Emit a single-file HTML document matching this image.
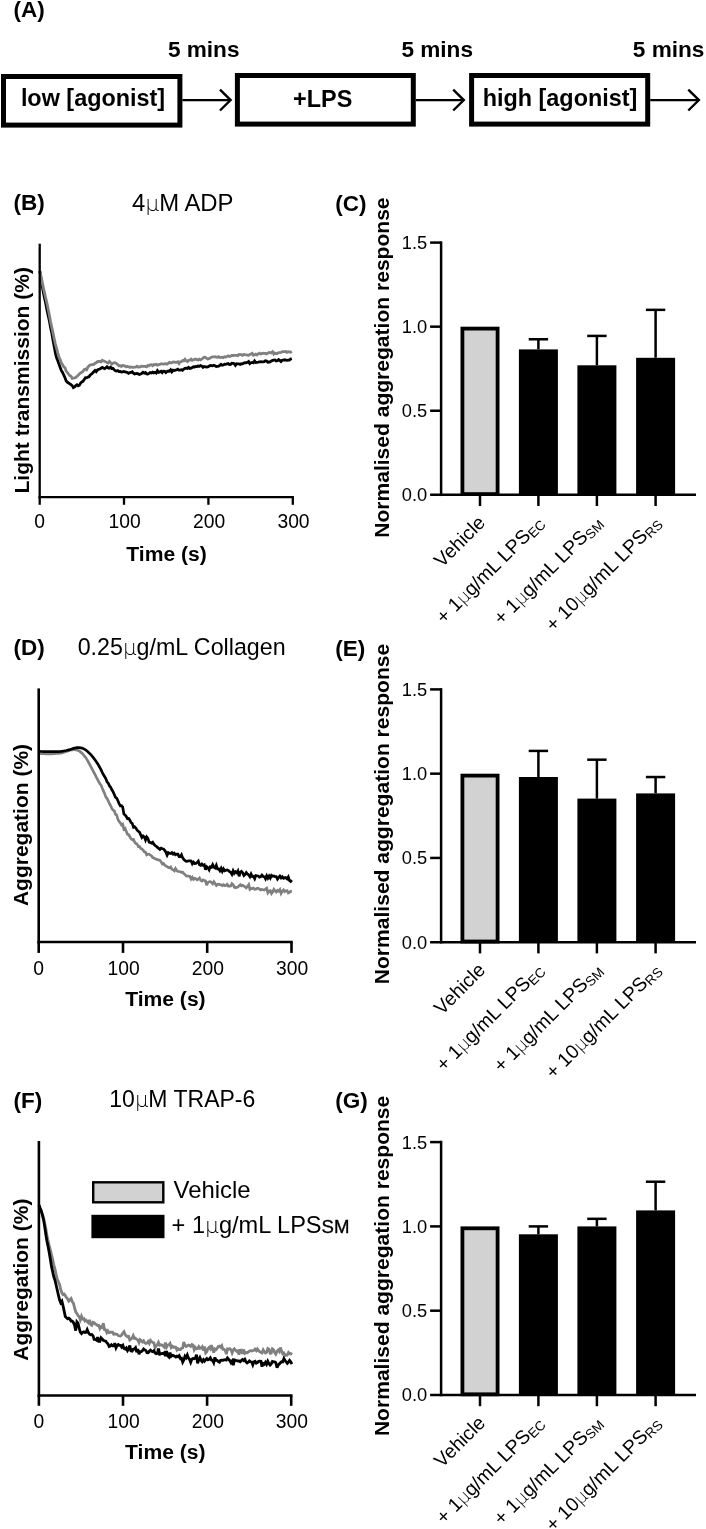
<!DOCTYPE html>
<html lang="en">
<head>
<meta charset="utf-8">
<title>Figure</title>
<style>
html,body{margin:0;padding:0;background:#fff;}
body{width:706px;height:1529px;overflow:hidden;}
svg{display:block;will-change:transform;}
text{font-family:"Liberation Sans", sans-serif;fill:#000;}
.mu{font-family:"DejaVu Sans", sans-serif;font-weight:200;font-size:0.92em;}
</style>
</head>
<body>
<svg width="706" height="1529" viewBox="0 0 706 1529">
<rect x="0" y="0" width="706" height="1529" fill="#fff"/>
<text x="13.5" y="16.7" font-size="22.5" font-weight="700" text-anchor="start">(A)</text>
<text x="167.9" y="57.4" font-size="22.6" font-weight="700" text-anchor="start">5 mins</text>
<text x="401.4" y="57.4" font-size="22.6" font-weight="700" text-anchor="start">5 mins</text>
<text x="632.8" y="57.4" font-size="22.6" font-weight="700" text-anchor="start">5 mins</text>
<rect x="3.5" y="76.5" width="176.4" height="48.599999999999994" fill="#fff" stroke="#000" stroke-width="5.0"/>
<text x="93" y="106.2" font-size="23.4" font-weight="700" text-anchor="middle">low [agonist]</text>
<rect x="237.4" y="75.5" width="175.9" height="48.599999999999994" fill="#fff" stroke="#000" stroke-width="5.0"/>
<text x="322.7" y="107.2" font-size="23.4" font-weight="700" text-anchor="middle">+LPS</text>
<rect x="471.6" y="75.5" width="176.10000000000002" height="48.599999999999994" fill="#fff" stroke="#000" stroke-width="5.0"/>
<text x="560" y="106.2" font-size="23.4" font-weight="700" text-anchor="middle">high [agonist]</text>
<line x1="182.4" y1="100.1" x2="229.6" y2="100.1" stroke="#000" stroke-width="2.4" stroke-linecap="butt"/>
<polyline points="220.0,89.69999999999999 230.6,100.1 220.0,110.5" fill="none" stroke="#000" stroke-width="2.4" stroke-linejoin="miter" stroke-linecap="butt"/>
<line x1="415.8" y1="100.1" x2="462.8" y2="100.1" stroke="#000" stroke-width="2.4" stroke-linecap="butt"/>
<polyline points="453.2,89.69999999999999 463.8,100.1 453.2,110.5" fill="none" stroke="#000" stroke-width="2.4" stroke-linejoin="miter" stroke-linecap="butt"/>
<line x1="650.2" y1="100.1" x2="697.9" y2="100.1" stroke="#000" stroke-width="2.4" stroke-linecap="butt"/>
<polyline points="688.3,89.69999999999999 698.9,100.1 688.3,110.5" fill="none" stroke="#000" stroke-width="2.4" stroke-linejoin="miter" stroke-linecap="butt"/>
<polyline points="39.8,271.0 41.0,278.6 42.2,285.9 43.4,292.4 44.6,298.5 45.8,303.7 47.0,310.2 48.2,315.7 49.4,321.0 50.6,327.7 51.8,333.0 53.0,340.3 54.2,346.4 55.4,352.9 56.6,357.9 57.8,360.7 59.0,364.3 60.2,367.6 61.4,370.7 62.6,372.5 63.8,375.2 65.0,377.7 66.2,381.0 67.4,382.3 68.6,382.9 69.8,383.8 71.0,384.7 72.2,385.6 73.4,387.7 74.6,387.0 75.8,385.6 77.0,384.8 78.2,385.9 79.4,385.3 80.6,383.1 81.8,381.9 83.0,381.3 84.2,379.5 85.4,377.7 86.6,377.9 87.8,377.1 89.0,376.8 90.2,374.9 91.4,374.1 92.6,373.0 93.8,371.7 95.0,370.5 96.2,371.7 97.4,370.1 98.6,369.3 99.8,369.0 101.0,368.3 102.2,367.4 103.4,368.0 104.6,368.7 105.8,367.9 107.0,366.7 108.2,368.0 109.4,368.2 110.6,367.2 111.8,368.5 113.0,368.5 114.2,369.7 115.4,370.8 116.6,371.0 117.8,370.6 119.0,371.5 120.2,371.4 121.4,372.1 122.6,371.8 123.8,371.5 125.0,371.8 126.2,372.2 127.4,372.5 128.6,373.3 129.8,372.6 131.0,372.4 132.2,371.8 133.4,373.1 134.6,374.0 135.8,373.7 137.0,373.5 138.2,373.9 139.4,374.5 140.6,374.1 141.8,373.3 143.0,372.3 144.2,373.1 145.4,372.5 146.6,373.9 147.8,374.0 149.0,373.4 150.2,372.6 151.4,372.9 152.6,372.1 153.8,372.9 155.0,372.4 156.2,373.1 157.4,370.7 158.6,372.4 159.8,371.9 161.0,371.2 162.2,372.6 163.4,371.2 164.6,371.3 165.8,372.5 167.0,371.4 168.2,371.0 169.4,371.2 170.6,369.9 171.8,371.8 173.0,370.1 174.2,370.6 175.4,370.1 176.6,370.0 177.8,369.2 179.0,370.1 180.2,370.1 181.4,369.7 182.6,370.3 183.8,369.1 185.0,368.3 186.2,368.2 187.4,368.4 188.6,367.4 189.8,368.5 191.0,368.2 192.2,367.6 193.4,366.8 194.6,367.1 195.8,366.5 197.0,366.6 198.2,366.0 199.4,366.2 200.6,365.5 201.8,366.1 203.0,367.4 204.2,366.5 205.4,366.8 206.6,367.0 207.8,366.9 209.0,366.2 210.2,365.5 211.4,365.6 212.6,365.8 213.8,365.3 215.0,365.8 216.2,366.5 217.4,366.3 218.6,366.1 219.8,365.3 221.0,364.3 222.2,365.3 223.4,365.0 224.6,364.2 225.8,364.4 227.0,363.8 228.2,363.5 229.4,364.6 230.6,364.4 231.8,363.2 233.0,363.4 234.2,363.7 235.4,365.4 236.6,363.7 237.8,363.9 239.0,363.9 240.2,364.4 241.4,363.7 242.6,363.8 243.8,363.0 245.0,362.7 246.2,362.9 247.4,362.3 248.6,361.5 249.8,363.6 251.0,362.7 252.2,362.5 253.4,362.8 254.6,360.9 255.8,362.5 257.0,362.3 258.2,362.2 259.4,362.0 260.6,361.6 261.8,361.8 263.0,361.9 264.2,361.7 265.4,360.7 266.6,361.0 267.8,362.2 269.0,362.0 270.2,361.9 271.4,361.0 272.6,360.4 273.8,360.2 275.0,360.0 276.2,360.9 277.4,360.7 278.6,359.6 279.8,360.4 281.0,361.6 282.2,360.3 283.4,360.0 284.6,359.8 285.8,360.1 287.0,360.4 288.2,360.2 289.4,360.1 290.6,359.0 291.8,358.6" fill="none" stroke="#000" stroke-width="2.8" stroke-linejoin="miter" stroke-miterlimit="3" stroke-linecap="butt"/>
<polyline points="39.8,271.0 41.0,276.5 42.2,282.1 43.4,287.8 44.6,293.1 45.8,298.3 47.0,303.3 48.2,309.2 49.4,315.2 50.6,321.7 51.8,327.4 53.0,332.9 54.2,338.7 55.4,344.1 56.6,348.4 57.8,353.2 59.0,357.1 60.2,359.5 61.4,363.0 62.6,364.8 63.8,366.9 65.0,367.8 66.2,371.0 67.4,372.5 68.6,374.2 69.8,375.6 71.0,376.2 72.2,378.4 73.4,378.1 74.6,377.9 75.8,377.5 77.0,376.3 78.2,375.3 79.4,374.1 80.6,372.9 81.8,372.4 83.0,371.2 84.2,369.7 85.4,369.0 86.6,369.7 87.8,367.3 89.0,365.8 90.2,365.1 91.4,364.7 92.6,364.6 93.8,364.5 95.0,363.2 96.2,362.7 97.4,361.6 98.6,361.5 99.8,361.4 101.0,361.9 102.2,360.3 103.4,360.9 104.6,361.2 105.8,361.9 107.0,362.6 108.2,363.1 109.4,361.5 110.6,362.8 111.8,364.1 113.0,363.1 114.2,362.6 115.4,362.9 116.6,363.6 117.8,364.7 119.0,365.7 120.2,365.6 121.4,366.4 122.6,365.4 123.8,365.6 125.0,366.1 126.2,366.9 127.4,366.3 128.6,366.9 129.8,367.2 131.0,367.0 132.2,367.4 133.4,367.3 134.6,367.2 135.8,367.1 137.0,366.2 138.2,367.1 139.4,367.0 140.6,366.6 141.8,366.2 143.0,366.4 144.2,366.4 145.4,366.4 146.6,366.8 147.8,365.5 149.0,365.7 150.2,364.9 151.4,364.7 152.6,365.7 153.8,364.6 155.0,364.9 156.2,364.4 157.4,365.2 158.6,364.7 159.8,364.4 161.0,363.8 162.2,363.8 163.4,364.1 164.6,363.8 165.8,363.7 167.0,364.1 168.2,363.3 169.4,362.3 170.6,362.8 171.8,362.8 173.0,362.1 174.2,361.9 175.4,362.3 176.6,362.3 177.8,361.8 179.0,363.5 180.2,361.8 181.4,361.7 182.6,360.5 183.8,360.9 185.0,359.3 186.2,360.8 187.4,361.6 188.6,360.3 189.8,360.1 191.0,359.2 192.2,360.4 193.4,359.8 194.6,359.4 195.8,359.0 197.0,359.6 198.2,360.0 199.4,359.2 200.6,359.8 201.8,359.1 203.0,358.2 204.2,357.2 205.4,357.4 206.6,358.4 207.8,359.0 209.0,358.6 210.2,358.0 211.4,357.2 212.6,356.9 213.8,356.9 215.0,356.7 216.2,357.2 217.4,357.3 218.6,356.6 219.8,357.6 221.0,357.4 222.2,357.1 223.4,357.6 224.6,356.7 225.8,357.0 227.0,356.5 228.2,355.8 229.4,356.5 230.6,356.1 231.8,355.4 233.0,355.5 234.2,355.3 235.4,355.3 236.6,355.3 237.8,355.7 239.0,354.5 240.2,354.7 241.4,354.7 242.6,355.3 243.8,354.5 245.0,354.7 246.2,354.8 247.4,355.1 248.6,355.2 249.8,354.6 251.0,354.0 252.2,353.4 253.4,355.3 254.6,354.8 255.8,354.1 257.0,354.9 258.2,353.8 259.4,353.2 260.6,354.0 261.8,353.6 263.0,353.1 264.2,353.4 265.4,353.4 266.6,353.9 267.8,353.1 269.0,352.5 270.2,352.7 271.4,352.9 272.6,351.8 273.8,354.0 275.0,353.0 276.2,353.8 277.4,353.4 278.6,352.6 279.8,352.6 281.0,352.4 282.2,351.7 283.4,351.7 284.6,351.7 285.8,351.4 287.0,352.3 288.2,351.7 289.4,351.8 290.6,352.2 291.8,351.4" fill="none" stroke="#808080" stroke-width="2.8" stroke-linejoin="miter" stroke-miterlimit="3" stroke-linecap="butt"/>
<text x="13.5" y="210" font-size="22.5" font-weight="700" text-anchor="start">(B)</text>
<text x="131.9" y="211.0" font-size="23.9" text-anchor="start">4<tspan class="mu">μ</tspan>M ADP</text>
<line x1="39.7" y1="243.7" x2="39.7" y2="498.34999999999997" stroke="#000" stroke-width="2.3" stroke-linecap="butt"/>
<line x1="38.550000000000004" y1="497.2" x2="293.95" y2="497.2" stroke="#000" stroke-width="2.3" stroke-linecap="butt"/>
<line x1="39.7" y1="497.2" x2="39.7" y2="504.8" stroke="#000" stroke-width="2.3" stroke-linecap="butt"/>
<text x="39.7" y="527.8" font-size="19.3" text-anchor="middle">0</text>
<line x1="124.0" y1="497.2" x2="124.0" y2="504.8" stroke="#000" stroke-width="2.3" stroke-linecap="butt"/>
<text x="124.7" y="527.8" font-size="19.3" text-anchor="middle">100</text>
<line x1="208.4" y1="497.2" x2="208.4" y2="504.8" stroke="#000" stroke-width="2.3" stroke-linecap="butt"/>
<text x="209.1" y="527.8" font-size="19.3" text-anchor="middle">200</text>
<line x1="292.8" y1="497.2" x2="292.8" y2="504.8" stroke="#000" stroke-width="2.3" stroke-linecap="butt"/>
<text x="293.5" y="527.8" font-size="19.3" text-anchor="middle">300</text>
<text x="166.55" y="560.5" font-size="21.1" font-weight="700" text-anchor="middle">Time (s)</text>
<text x="29.3" y="380.3" font-size="21" font-weight="700" text-anchor="middle" transform="rotate(-90 29.3 380.3)">Light transmission (%)</text>
<polyline points="38.7,753.5 39.9,753.5 41.1,753.6 42.3,753.6 43.5,753.7 44.7,753.7 45.9,753.8 47.1,753.8 48.3,753.8 49.5,753.8 50.7,753.8 51.9,753.8 53.1,753.7 54.3,753.7 55.5,753.6 56.7,753.5 57.9,753.4 59.1,753.3 60.3,753.2 61.5,752.9 62.7,752.6 63.9,752.2 65.1,751.9 66.3,751.5 67.5,751.1 68.7,750.7 69.9,750.3 71.1,750.0 72.3,749.8 73.5,749.6 74.7,749.6 75.9,749.8 77.1,750.1 78.3,750.5 79.5,751.1 80.7,752.1 81.9,753.1 83.1,754.4 84.3,755.8 85.5,757.3 86.7,759.1 87.9,761.1 89.1,763.4 90.3,765.7 91.5,767.9 92.7,770.2 93.9,772.5 95.1,774.6 96.3,777.1 97.5,779.4 98.7,781.6 99.9,783.7 101.1,785.3 102.3,788.3 103.5,791.1 104.7,793.8 105.9,797.1 107.1,798.6 108.3,801.0 109.5,803.7 110.7,805.8 111.9,808.6 113.1,810.2 114.3,810.7 115.5,814.4 116.7,815.2 117.9,819.3 119.1,821.5 120.3,822.9 121.5,825.0 122.7,824.2 123.9,829.2 125.1,828.4 126.3,831.6 127.5,834.3 128.7,834.7 129.9,836.8 131.1,838.9 132.3,839.7 133.5,839.4 134.7,842.3 135.9,843.5 137.1,844.0 138.3,846.5 139.5,846.4 140.7,848.5 141.9,849.0 143.1,850.2 144.3,851.9 145.5,852.2 146.7,854.8 147.9,854.1 149.1,854.2 150.3,855.1 151.5,855.7 152.7,857.6 153.9,858.1 155.1,858.7 156.3,859.1 157.5,859.8 158.7,859.8 159.9,860.3 161.1,861.9 162.3,864.0 163.5,863.4 164.7,865.2 165.9,865.8 167.1,866.7 168.3,867.4 169.5,867.8 170.7,867.0 171.9,869.2 173.1,869.8 174.3,870.8 175.5,868.5 176.7,870.5 177.9,871.5 179.1,871.5 180.3,871.7 181.5,872.3 182.7,872.2 183.9,873.7 185.1,874.8 186.3,876.0 187.5,876.1 188.7,876.2 189.9,876.5 191.1,879.0 192.3,877.3 193.5,879.4 194.7,878.2 195.9,878.6 197.1,879.8 198.3,879.2 199.5,878.0 200.7,880.3 201.9,881.1 203.1,879.9 204.3,880.6 205.5,880.9 206.7,885.2 207.9,882.4 209.1,881.7 210.3,881.6 211.5,882.4 212.7,883.8 213.9,881.8 215.1,883.6 216.3,885.5 217.5,884.4 218.7,884.2 219.9,884.6 221.1,884.8 222.3,885.6 223.5,884.6 224.7,885.5 225.9,885.4 227.1,884.3 228.3,886.1 229.5,886.2 230.7,886.0 231.9,883.7 233.1,884.7 234.3,887.2 235.5,887.8 236.7,887.3 237.9,887.1 239.1,885.7 240.3,884.7 241.5,885.9 242.7,885.3 243.9,886.2 245.1,886.9 246.3,887.8 247.5,886.3 248.7,884.6 249.9,889.4 251.1,888.4 252.3,888.6 253.5,888.1 254.7,889.4 255.9,889.2 257.1,888.4 258.3,888.3 259.5,889.1 260.7,889.9 261.9,889.5 263.1,889.7 264.3,890.0 265.5,889.2 266.7,888.3 267.9,892.7 269.1,891.1 270.3,890.7 271.5,893.5 272.7,891.7 273.9,889.4 275.1,891.1 276.3,892.0 277.5,890.3 278.7,891.1 279.9,889.6 281.1,893.4 282.3,891.4 283.5,889.9 284.7,891.6 285.9,890.7 287.1,890.6 288.3,892.9 289.5,892.3 290.7,891.3 291.9,891.1" fill="none" stroke="#808080" stroke-width="2.7" stroke-linejoin="miter" stroke-miterlimit="3" stroke-linecap="butt"/>
<polyline points="38.7,751.4 39.9,751.4 41.1,751.5 42.3,751.5 43.5,751.6 44.7,751.6 45.9,751.6 47.1,751.7 48.3,751.7 49.5,751.7 50.7,751.7 51.9,751.7 53.1,751.7 54.3,751.7 55.5,751.7 56.7,751.7 57.9,751.6 59.1,751.6 60.3,751.5 61.5,751.3 62.7,751.2 63.9,751.0 65.1,750.7 66.3,750.5 67.5,750.2 68.7,749.9 69.9,749.6 71.1,749.2 72.3,748.8 73.5,748.4 74.7,748.1 75.9,747.9 77.1,747.7 78.3,747.6 79.5,747.6 80.7,747.8 81.9,748.1 83.1,748.5 84.3,749.1 85.5,749.8 86.7,750.8 87.9,751.8 89.1,752.9 90.3,754.1 91.5,755.4 92.7,756.8 93.9,758.4 95.1,760.0 96.3,761.8 97.5,763.6 98.7,765.5 99.9,767.6 101.1,769.9 102.3,772.7 103.5,774.7 104.7,776.7 105.9,778.8 107.1,781.9 108.3,783.2 109.5,785.9 110.7,787.3 111.9,789.8 113.1,791.8 114.3,794.5 115.5,797.3 116.7,798.1 117.9,800.7 119.1,803.6 120.3,805.8 121.5,805.7 122.7,807.1 123.9,814.0 125.1,815.0 126.3,816.6 127.5,818.7 128.7,818.5 129.9,820.3 131.1,822.7 132.3,823.5 133.5,827.3 134.7,826.9 135.9,828.0 137.1,830.1 138.3,831.3 139.5,832.2 140.7,834.9 141.9,837.5 143.1,835.9 144.3,837.0 145.5,840.0 146.7,836.9 147.9,838.3 149.1,842.1 150.3,842.5 151.5,843.2 152.7,842.3 153.9,844.3 155.1,845.5 156.3,846.3 157.5,847.4 158.7,848.4 159.9,849.4 161.1,848.2 162.3,848.8 163.5,849.0 164.7,850.3 165.9,852.2 167.1,855.2 168.3,852.6 169.5,853.2 170.7,853.6 171.9,852.6 173.1,854.1 174.3,853.1 175.5,854.8 176.7,854.1 177.9,854.1 179.1,856.6 180.3,856.7 181.5,854.8 182.7,857.9 183.9,859.6 185.1,860.6 186.3,861.3 187.5,861.2 188.7,860.9 189.9,860.8 191.1,861.0 192.3,863.8 193.5,862.1 194.7,863.5 195.9,863.4 197.1,862.5 198.3,861.2 199.5,864.8 200.7,865.4 201.9,864.0 203.1,865.4 204.3,864.8 205.5,869.8 206.7,866.7 207.9,867.7 209.1,869.8 210.3,866.7 211.5,867.2 212.7,864.7 213.9,867.3 215.1,868.0 216.3,865.3 217.5,868.9 218.7,868.9 219.9,870.7 221.1,868.3 222.3,871.4 223.5,868.8 224.7,870.7 225.9,870.2 227.1,869.9 228.3,870.3 229.5,871.7 230.7,872.3 231.9,874.3 233.1,870.8 234.3,873.4 235.5,871.7 236.7,872.7 237.9,870.9 239.1,876.3 240.3,872.4 241.5,871.4 242.7,872.7 243.9,875.5 245.1,874.5 246.3,872.5 247.5,874.0 248.7,875.0 249.9,876.8 251.1,874.0 252.3,876.5 253.5,876.3 254.7,878.7 255.9,875.5 257.1,875.8 258.3,876.0 259.5,877.2 260.7,876.6 261.9,875.1 263.1,876.5 264.3,876.7 265.5,878.8 266.7,875.8 267.9,878.1 269.1,876.0 270.3,878.0 271.5,875.4 272.7,876.3 273.9,875.9 275.1,876.7 276.3,876.7 277.5,879.1 278.7,877.5 279.9,876.0 281.1,877.9 282.3,876.7 283.5,878.3 284.7,877.7 285.9,877.7 287.1,878.9 288.3,876.9 289.5,880.6 290.7,881.5 291.9,880.2" fill="none" stroke="#000" stroke-width="2.7" stroke-linejoin="miter" stroke-miterlimit="3" stroke-linecap="butt"/>
<text x="13.5" y="654.7" font-size="22.5" font-weight="700" text-anchor="start">(D)</text>
<text x="77.7" y="654.8" font-size="23.25" text-anchor="start">0.25<tspan class="mu">μ</tspan>g/mL Collagen</text>
<line x1="38.7" y1="688.4" x2="38.7" y2="943.3" stroke="#000" stroke-width="2.6" stroke-linecap="butt"/>
<line x1="37.400000000000006" y1="942.0" x2="292.8" y2="942.0" stroke="#000" stroke-width="2.6" stroke-linecap="butt"/>
<line x1="38.7" y1="942.0" x2="38.7" y2="952.9" stroke="#000" stroke-width="2.6" stroke-linecap="butt"/>
<text x="38.7" y="974.7" font-size="19.3" text-anchor="middle">0</text>
<line x1="123.0" y1="942.0" x2="123.0" y2="952.9" stroke="#000" stroke-width="2.6" stroke-linecap="butt"/>
<text x="123.7" y="974.7" font-size="19.3" text-anchor="middle">100</text>
<line x1="207.2" y1="942.0" x2="207.2" y2="952.9" stroke="#000" stroke-width="2.6" stroke-linecap="butt"/>
<text x="207.89999999999998" y="974.7" font-size="19.3" text-anchor="middle">200</text>
<line x1="291.5" y1="942.0" x2="291.5" y2="952.9" stroke="#000" stroke-width="2.6" stroke-linecap="butt"/>
<text x="292.2" y="974.7" font-size="19.3" text-anchor="middle">300</text>
<text x="165.4" y="1005.5" font-size="21.1" font-weight="700" text-anchor="middle">Time (s)</text>
<text x="28.3" y="825" font-size="21" font-weight="700" text-anchor="middle" transform="rotate(-90 28.3 825)">Aggregation (%)</text>
<polyline points="38.9,1204.9 40.0,1207.7 41.2,1210.6 42.3,1213.9 43.5,1217.9 44.6,1222.6 45.8,1228.6 46.9,1235.2 48.1,1240.7 49.2,1245.5 50.4,1250.1 51.5,1254.8 52.7,1259.5 53.8,1264.9 55.0,1269.1 56.1,1274.4 57.3,1279.3 58.4,1281.7 59.6,1284.7 60.7,1289.5 61.9,1292.8 63.0,1294.7 64.2,1294.0 65.3,1295.6 66.5,1297.7 67.6,1298.8 68.8,1301.0 70.0,1299.7 71.1,1298.6 72.3,1301.8 73.4,1303.2 74.6,1307.9 75.7,1311.9 76.9,1313.5 78.0,1315.4 79.2,1316.8 80.3,1319.8 81.5,1316.3 82.6,1319.0 83.8,1318.5 84.9,1320.9 86.1,1320.1 87.2,1321.5 88.4,1322.7 89.5,1319.9 90.7,1324.4 91.8,1325.3 93.0,1322.2 94.1,1322.6 95.3,1324.0 96.4,1324.4 97.6,1325.6 98.7,1325.4 99.9,1328.6 101.0,1326.8 102.2,1327.4 103.3,1323.2 104.5,1329.6 105.6,1329.7 106.8,1332.6 107.9,1330.9 109.1,1332.7 110.2,1332.4 111.4,1332.1 112.5,1332.2 113.7,1334.2 114.8,1333.8 116.0,1334.2 117.1,1334.3 118.3,1335.6 119.4,1335.9 120.6,1336.1 121.7,1334.8 122.9,1333.0 124.0,1331.7 125.2,1334.5 126.3,1335.9 127.5,1336.7 128.6,1336.4 129.8,1340.0 130.9,1339.2 132.1,1338.0 133.2,1335.6 134.4,1338.4 135.5,1338.2 136.7,1339.4 137.8,1339.9 139.0,1342.6 140.1,1339.6 141.3,1340.7 142.4,1342.0 143.6,1340.8 144.7,1342.8 145.9,1343.5 147.0,1343.0 148.2,1341.5 149.3,1343.3 150.5,1340.4 151.6,1341.6 152.8,1342.6 153.9,1342.9 155.1,1347.8 156.2,1345.9 157.4,1344.7 158.5,1342.4 159.7,1345.2 160.8,1344.8 162.0,1345.1 163.1,1345.9 164.3,1347.1 165.4,1342.7 166.6,1347.0 167.7,1345.0 168.9,1344.8 170.0,1343.5 171.2,1347.5 172.3,1346.3 173.5,1347.4 174.6,1346.9 175.8,1347.2 176.9,1350.0 178.1,1348.7 179.2,1349.6 180.4,1349.6 181.5,1348.2 182.7,1347.9 183.8,1342.1 185.0,1345.4 186.1,1346.4 187.3,1345.7 188.4,1345.1 189.6,1345.4 190.7,1346.4 191.9,1344.5 193.0,1345.0 194.2,1349.6 195.3,1347.5 196.5,1348.8 197.6,1348.5 198.8,1346.6 199.9,1348.4 201.1,1348.1 202.2,1346.8 203.4,1350.6 204.5,1346.4 205.7,1352.9 206.8,1351.8 208.0,1348.5 209.1,1347.4 210.3,1348.9 211.4,1345.2 212.6,1348.6 213.7,1352.6 214.9,1348.9 216.0,1349.6 217.2,1348.4 218.3,1346.4 219.5,1346.1 220.6,1347.2 221.8,1345.7 222.9,1349.3 224.1,1349.3 225.2,1350.3 226.4,1354.2 227.5,1348.9 228.7,1349.2 229.8,1348.7 231.0,1349.8 232.1,1352.8 233.3,1349.9 234.4,1348.8 235.6,1350.3 236.7,1351.4 237.9,1350.8 239.0,1354.5 240.2,1350.2 241.3,1350.1 242.5,1353.8 243.6,1349.5 244.8,1353.3 245.9,1352.5 247.1,1352.7 248.2,1352.0 249.4,1351.0 250.5,1350.7 251.7,1351.1 252.8,1350.5 254.0,1350.3 255.1,1349.1 256.3,1350.6 257.4,1349.0 258.6,1350.7 259.7,1351.6 260.9,1352.4 262.0,1353.0 263.2,1349.9 264.3,1351.6 265.5,1352.9 266.6,1352.3 267.8,1348.5 268.9,1349.1 270.1,1353.3 271.2,1353.2 272.4,1348.9 273.5,1349.7 274.7,1352.5 275.8,1354.1 277.0,1351.4 278.1,1350.2 279.3,1351.6 280.4,1347.5 281.6,1351.1 282.7,1353.8 283.9,1353.1 285.0,1355.6 286.2,1355.0 287.3,1355.1 288.5,1352.5 289.6,1353.7 290.8,1353.9 291.9,1352.6" fill="none" stroke="#808080" stroke-width="2.8" stroke-linejoin="miter" stroke-miterlimit="3" stroke-linecap="butt"/>
<polyline points="38.9,1204.9 40.0,1207.9 41.2,1210.9 42.3,1214.7 43.5,1219.6 44.6,1226.1 45.8,1234.3 46.9,1241.0 48.1,1246.6 49.2,1252.5 50.4,1259.5 51.5,1266.4 52.7,1271.9 53.8,1276.8 55.0,1280.3 56.1,1285.0 57.3,1290.3 58.4,1295.1 59.6,1300.0 60.7,1302.7 61.9,1301.2 63.0,1305.6 64.2,1311.2 65.3,1316.6 66.5,1317.8 67.6,1318.8 68.8,1318.2 70.0,1319.2 71.1,1321.1 72.3,1321.2 73.4,1322.6 74.6,1325.3 75.7,1330.6 76.9,1321.8 78.0,1323.1 79.2,1328.2 80.3,1332.2 81.5,1333.6 82.6,1332.3 83.8,1331.8 84.9,1332.5 86.1,1332.3 87.2,1329.6 88.4,1332.5 89.5,1334.2 90.7,1334.7 91.8,1334.5 93.0,1335.7 94.1,1339.4 95.3,1339.4 96.4,1340.1 97.6,1337.2 98.7,1341.3 99.9,1341.3 101.0,1337.8 102.2,1338.9 103.3,1340.3 104.5,1340.8 105.6,1341.0 106.8,1342.6 107.9,1343.8 109.1,1346.5 110.2,1346.0 111.4,1344.7 112.5,1345.9 113.7,1345.9 114.8,1343.2 116.0,1347.7 117.1,1345.5 118.3,1344.6 119.4,1345.4 120.6,1345.4 121.7,1347.1 122.9,1345.4 124.0,1348.5 125.2,1349.1 126.3,1347.9 127.5,1350.5 128.6,1348.8 129.8,1345.5 130.9,1350.9 132.1,1351.1 133.2,1349.2 134.4,1348.9 135.5,1347.7 136.7,1352.2 137.8,1349.2 139.0,1354.2 140.1,1351.6 141.3,1351.6 142.4,1350.8 143.6,1349.0 144.7,1349.9 145.9,1350.5 147.0,1352.6 148.2,1352.7 149.3,1351.3 150.5,1350.2 151.6,1351.3 152.8,1351.6 153.9,1350.7 155.1,1353.1 156.2,1353.7 157.4,1353.4 158.5,1348.5 159.7,1354.3 160.8,1354.0 162.0,1353.5 163.1,1353.6 164.3,1352.7 165.4,1356.0 166.6,1351.2 167.7,1355.8 168.9,1357.0 170.0,1352.6 171.2,1356.3 172.3,1355.3 173.5,1355.6 174.6,1356.2 175.8,1357.0 176.9,1356.1 178.1,1356.8 179.2,1355.7 180.4,1358.6 181.5,1358.3 182.7,1362.1 183.8,1360.0 185.0,1356.2 186.1,1357.7 187.3,1355.0 188.4,1358.0 189.6,1359.4 190.7,1362.3 191.9,1359.1 193.0,1358.4 194.2,1358.7 195.3,1358.2 196.5,1354.8 197.6,1363.2 198.8,1359.7 199.9,1357.5 201.1,1360.4 202.2,1361.6 203.4,1359.7 204.5,1361.2 205.7,1359.7 206.8,1358.6 208.0,1359.9 209.1,1359.4 210.3,1357.9 211.4,1360.0 212.6,1360.4 213.7,1362.6 214.9,1357.4 216.0,1360.3 217.2,1360.4 218.3,1361.6 219.5,1362.2 220.6,1360.3 221.8,1360.2 222.9,1360.4 224.1,1359.9 225.2,1359.6 226.4,1360.0 227.5,1357.9 228.7,1359.3 229.8,1360.6 231.0,1362.7 232.1,1361.0 233.3,1365.2 234.4,1359.9 235.6,1360.4 236.7,1360.7 237.9,1361.0 239.0,1361.0 240.2,1361.7 241.3,1360.5 242.5,1359.5 243.6,1360.5 244.8,1359.2 245.9,1361.8 247.1,1363.0 248.2,1362.2 249.4,1360.9 250.5,1361.8 251.7,1362.0 252.8,1364.9 254.0,1361.7 255.1,1361.2 256.3,1363.2 257.4,1362.6 258.6,1361.3 259.7,1361.1 260.9,1361.3 262.0,1366.6 263.2,1363.6 264.3,1364.3 265.5,1362.3 266.6,1364.3 267.8,1361.2 268.9,1363.5 270.1,1365.1 271.2,1363.9 272.4,1361.4 273.5,1361.8 274.7,1361.8 275.8,1362.6 277.0,1367.7 278.1,1365.3 279.3,1364.1 280.4,1362.8 281.6,1361.7 282.7,1361.9 283.9,1358.6 285.0,1360.3 286.2,1362.0 287.3,1363.4 288.5,1362.1 289.6,1360.4 290.8,1361.9 291.9,1364.2" fill="none" stroke="#000" stroke-width="2.8" stroke-linejoin="miter" stroke-miterlimit="3" stroke-linecap="butt"/>
<text x="13.5" y="1107.8" font-size="22.5" font-weight="700" text-anchor="start">(F)</text>
<text x="109.3" y="1107.4" font-size="23.0" text-anchor="start">10<tspan class="mu">μ</tspan>M TRAP-6</text>
<line x1="38.9" y1="1141" x2="38.9" y2="1396.8" stroke="#000" stroke-width="2.6" stroke-linecap="butt"/>
<line x1="37.6" y1="1395.5" x2="292.5" y2="1395.5" stroke="#000" stroke-width="2.6" stroke-linecap="butt"/>
<line x1="38.9" y1="1395.5" x2="38.9" y2="1405.8" stroke="#000" stroke-width="2.6" stroke-linecap="butt"/>
<text x="38.9" y="1428.1" font-size="19.3" text-anchor="middle">0</text>
<line x1="123.0" y1="1395.5" x2="123.0" y2="1405.8" stroke="#000" stroke-width="2.6" stroke-linecap="butt"/>
<text x="123.7" y="1428.1" font-size="19.3" text-anchor="middle">100</text>
<line x1="207.1" y1="1395.5" x2="207.1" y2="1405.8" stroke="#000" stroke-width="2.6" stroke-linecap="butt"/>
<text x="207.79999999999998" y="1428.1" font-size="19.3" text-anchor="middle">200</text>
<line x1="291.2" y1="1395.5" x2="291.2" y2="1405.8" stroke="#000" stroke-width="2.6" stroke-linecap="butt"/>
<text x="291.9" y="1428.1" font-size="19.3" text-anchor="middle">300</text>
<text x="165.35" y="1458.8999999999999" font-size="21.1" font-weight="700" text-anchor="middle">Time (s)</text>
<text x="28.5" y="1279.7" font-size="21" font-weight="700" text-anchor="middle" transform="rotate(-90 28.5 1279.7)">Aggregation (%)</text>
<rect x="93.2" y="1182.3" width="70.1" height="20.0" fill="#d2d2d2" stroke="#000" stroke-width="2.4"/>
<rect x="91.4" y="1214.8" width="73.1" height="23.4" fill="#000"/>
<text x="173.6" y="1197.7" font-size="23.9" text-anchor="start">Vehicle</text>
<text x="171.6" y="1232.7" font-size="23.6" text-anchor="start">+ 1<tspan class="mu">μ</tspan>g/mL LPS<tspan font-size="18.6" stroke="#000" stroke-width="0.35">SM</tspan></text>
<text x="335.3" y="211.1" font-size="22.5" font-weight="700" text-anchor="start">(C)</text>
<text x="388.9" y="367.6" font-size="21.06" font-weight="700" text-anchor="middle" transform="rotate(-90 388.9 367.6)">Normalised aggregation response</text>
<rect x="462.4" y="328.6" width="35.2" height="165.5" fill="#d2d2d2" stroke="#000" stroke-width="3.8"/>
<rect x="518.9" y="349.4" width="39.0" height="145.4" fill="#000"/>
<line x1="538.4" y1="349.36466666666666" x2="538.4" y2="339.27666666666664" stroke="#000" stroke-width="2.5" stroke-linecap="butt"/>
<line x1="528.6999999999999" y1="339.27666666666664" x2="548.1" y2="339.27666666666664" stroke="#000" stroke-width="2.5" stroke-linecap="butt"/>
<rect x="577.4" y="365.3" width="39.0" height="129.5" fill="#000"/>
<line x1="596.9" y1="365.33733333333333" x2="596.9" y2="335.914" stroke="#000" stroke-width="2.5" stroke-linecap="butt"/>
<line x1="587.1999999999999" y1="335.914" x2="606.6" y2="335.914" stroke="#000" stroke-width="2.5" stroke-linecap="butt"/>
<rect x="636.1" y="357.8" width="39.0" height="137.0" fill="#000"/>
<line x1="655.6" y1="357.77133333333336" x2="655.6" y2="309.8533333333333" stroke="#000" stroke-width="2.5" stroke-linecap="butt"/>
<line x1="645.9" y1="309.8533333333333" x2="665.3000000000001" y2="309.8533333333333" stroke="#000" stroke-width="2.5" stroke-linecap="butt"/>
<line x1="441.1" y1="241.35" x2="441.1" y2="496.05" stroke="#000" stroke-width="2.5" stroke-linecap="butt"/>
<line x1="430.1" y1="494.8" x2="696" y2="494.8" stroke="#000" stroke-width="2.5" stroke-linecap="butt"/>
<line x1="430.1" y1="410.73333333333335" x2="441.1" y2="410.73333333333335" stroke="#000" stroke-width="2.5" stroke-linecap="butt"/>
<line x1="430.1" y1="326.66666666666663" x2="441.1" y2="326.66666666666663" stroke="#000" stroke-width="2.5" stroke-linecap="butt"/>
<line x1="430.1" y1="242.59999999999997" x2="441.1" y2="242.59999999999997" stroke="#000" stroke-width="2.5" stroke-linecap="butt"/>
<text x="427.2" y="501.2" font-size="18.3" text-anchor="end">0.0</text>
<text x="427.2" y="417.1" font-size="18.3" text-anchor="end">0.5</text>
<text x="427.2" y="333.1" font-size="18.3" text-anchor="end">1.0</text>
<text x="427.2" y="249.0" font-size="18.3" text-anchor="end">1.5</text>
<line x1="480.0" y1="494.8" x2="480.0" y2="506.0" stroke="#000" stroke-width="2.5" stroke-linecap="butt"/>
<line x1="538.4" y1="494.8" x2="538.4" y2="506.0" stroke="#000" stroke-width="2.5" stroke-linecap="butt"/>
<line x1="596.9" y1="494.8" x2="596.9" y2="506.0" stroke="#000" stroke-width="2.5" stroke-linecap="butt"/>
<line x1="655.6" y1="494.8" x2="655.6" y2="506.0" stroke="#000" stroke-width="2.5" stroke-linecap="butt"/>
<text x="486.5" y="523.8" font-size="19.5" text-anchor="end" transform="rotate(-45 486.5 523.8)">Vehicle</text>
<text x="544.9" y="523.8" font-size="19.5" text-anchor="end" transform="rotate(-45 544.9 523.8)">+ 1<tspan class="mu">μ</tspan>g/mL LPS<tspan font-size="13.5" dy="2.5">EC</tspan></text>
<text x="603.4" y="523.8" font-size="19.5" text-anchor="end" transform="rotate(-45 603.4 523.8)">+ 1<tspan class="mu">μ</tspan>g/mL LPS<tspan font-size="13.5" dy="2.5">SM</tspan></text>
<text x="662.1" y="523.8" font-size="19.5" text-anchor="end" transform="rotate(-45 662.1 523.8)">+ 10<tspan class="mu">μ</tspan>g/mL LPS<tspan font-size="13.5" dy="2.5">RS</tspan></text>
<text x="335.3" y="655.8000000000001" font-size="22.5" font-weight="700" text-anchor="start">(E)</text>
<text x="388.9" y="814.0" font-size="21.06" font-weight="700" text-anchor="middle" transform="rotate(-90 388.9 814.0)">Normalised aggregation response</text>
<rect x="462.4" y="775.6" width="35.2" height="165.9" fill="#d2d2d2" stroke="#000" stroke-width="3.8"/>
<rect x="518.9" y="777.0" width="39.0" height="165.2" fill="#000"/>
<line x1="538.4" y1="777.0373333333333" x2="538.4" y2="750.9146666666667" stroke="#000" stroke-width="2.5" stroke-linecap="butt"/>
<line x1="528.6999999999999" y1="750.9146666666667" x2="548.1" y2="750.9146666666667" stroke="#000" stroke-width="2.5" stroke-linecap="butt"/>
<rect x="577.4" y="798.6" width="39.0" height="143.6" fill="#000"/>
<line x1="596.9" y1="798.6096" x2="596.9" y2="759.6784" stroke="#000" stroke-width="2.5" stroke-linecap="butt"/>
<line x1="587.1999999999999" y1="759.6784" x2="606.6" y2="759.6784" stroke="#000" stroke-width="2.5" stroke-linecap="butt"/>
<rect x="636.1" y="793.4" width="39.0" height="148.8" fill="#000"/>
<line x1="655.6" y1="793.3850666666667" x2="655.6" y2="777.0373333333333" stroke="#000" stroke-width="2.5" stroke-linecap="butt"/>
<line x1="645.9" y1="777.0373333333333" x2="665.3000000000001" y2="777.0373333333333" stroke="#000" stroke-width="2.5" stroke-linecap="butt"/>
<line x1="441.1" y1="688.15" x2="441.1" y2="943.45" stroke="#000" stroke-width="2.5" stroke-linecap="butt"/>
<line x1="430.1" y1="942.2" x2="696" y2="942.2" stroke="#000" stroke-width="2.5" stroke-linecap="butt"/>
<line x1="430.1" y1="857.9333333333334" x2="441.1" y2="857.9333333333334" stroke="#000" stroke-width="2.5" stroke-linecap="butt"/>
<line x1="430.1" y1="773.6666666666666" x2="441.1" y2="773.6666666666666" stroke="#000" stroke-width="2.5" stroke-linecap="butt"/>
<line x1="430.1" y1="689.4" x2="441.1" y2="689.4" stroke="#000" stroke-width="2.5" stroke-linecap="butt"/>
<text x="427.2" y="948.6" font-size="18.3" text-anchor="end">0.0</text>
<text x="427.2" y="864.3" font-size="18.3" text-anchor="end">0.5</text>
<text x="427.2" y="780.1" font-size="18.3" text-anchor="end">1.0</text>
<text x="427.2" y="695.8" font-size="18.3" text-anchor="end">1.5</text>
<line x1="480.0" y1="942.2" x2="480.0" y2="953.4000000000001" stroke="#000" stroke-width="2.5" stroke-linecap="butt"/>
<line x1="538.4" y1="942.2" x2="538.4" y2="953.4000000000001" stroke="#000" stroke-width="2.5" stroke-linecap="butt"/>
<line x1="596.9" y1="942.2" x2="596.9" y2="953.4000000000001" stroke="#000" stroke-width="2.5" stroke-linecap="butt"/>
<line x1="655.6" y1="942.2" x2="655.6" y2="953.4000000000001" stroke="#000" stroke-width="2.5" stroke-linecap="butt"/>
<text x="486.5" y="971.2" font-size="19.5" text-anchor="end" transform="rotate(-45 486.5 971.2)">Vehicle</text>
<text x="544.9" y="971.2" font-size="19.5" text-anchor="end" transform="rotate(-45 544.9 971.2)">+ 1<tspan class="mu">μ</tspan>g/mL LPS<tspan font-size="13.5" dy="2.5">EC</tspan></text>
<text x="603.4" y="971.2" font-size="19.5" text-anchor="end" transform="rotate(-45 603.4 971.2)">+ 1<tspan class="mu">μ</tspan>g/mL LPS<tspan font-size="13.5" dy="2.5">SM</tspan></text>
<text x="662.1" y="971.2" font-size="19.5" text-anchor="end" transform="rotate(-45 662.1 971.2)">+ 10<tspan class="mu">μ</tspan>g/mL LPS<tspan font-size="13.5" dy="2.5">RS</tspan></text>
<text x="335.3" y="1107.8" font-size="22.5" font-weight="700" text-anchor="start">(G)</text>
<text x="388.9" y="1265.9" font-size="21.06" font-weight="700" text-anchor="middle" transform="rotate(-90 388.9 1265.9)">Normalised aggregation response</text>
<rect x="462.4" y="1228.3" width="35.2" height="166.0" fill="#d2d2d2" stroke="#000" stroke-width="3.8"/>
<rect x="518.9" y="1234.3" width="39.0" height="160.7" fill="#000"/>
<line x1="538.4" y1="1234.3242" x2="538.4" y2="1226.3999999999999" stroke="#000" stroke-width="2.5" stroke-linecap="butt"/>
<line x1="528.6999999999999" y1="1226.3999999999999" x2="548.1" y2="1226.3999999999999" stroke="#000" stroke-width="2.5" stroke-linecap="butt"/>
<rect x="577.4" y="1226.4" width="39.0" height="168.6" fill="#000"/>
<line x1="596.9" y1="1226.3999999999999" x2="596.9" y2="1218.8129999999999" stroke="#000" stroke-width="2.5" stroke-linecap="butt"/>
<line x1="587.1999999999999" y1="1218.8129999999999" x2="606.6" y2="1218.8129999999999" stroke="#000" stroke-width="2.5" stroke-linecap="butt"/>
<rect x="636.1" y="1210.4" width="39.0" height="184.6" fill="#000"/>
<line x1="655.6" y1="1210.383" x2="655.6" y2="1181.721" stroke="#000" stroke-width="2.5" stroke-linecap="butt"/>
<line x1="645.9" y1="1181.721" x2="665.3000000000001" y2="1181.721" stroke="#000" stroke-width="2.5" stroke-linecap="butt"/>
<line x1="441.1" y1="1140.85" x2="441.1" y2="1396.25" stroke="#000" stroke-width="2.5" stroke-linecap="butt"/>
<line x1="430.1" y1="1395.0" x2="696" y2="1395.0" stroke="#000" stroke-width="2.5" stroke-linecap="butt"/>
<line x1="430.1" y1="1310.7" x2="441.1" y2="1310.7" stroke="#000" stroke-width="2.5" stroke-linecap="butt"/>
<line x1="430.1" y1="1226.3999999999999" x2="441.1" y2="1226.3999999999999" stroke="#000" stroke-width="2.5" stroke-linecap="butt"/>
<line x1="430.1" y1="1142.1" x2="441.1" y2="1142.1" stroke="#000" stroke-width="2.5" stroke-linecap="butt"/>
<text x="427.2" y="1401.4" font-size="18.3" text-anchor="end">0.0</text>
<text x="427.2" y="1317.1" font-size="18.3" text-anchor="end">0.5</text>
<text x="427.2" y="1232.8" font-size="18.3" text-anchor="end">1.0</text>
<text x="427.2" y="1148.5" font-size="18.3" text-anchor="end">1.5</text>
<line x1="480.0" y1="1395.0" x2="480.0" y2="1406.2" stroke="#000" stroke-width="2.5" stroke-linecap="butt"/>
<line x1="538.4" y1="1395.0" x2="538.4" y2="1406.2" stroke="#000" stroke-width="2.5" stroke-linecap="butt"/>
<line x1="596.9" y1="1395.0" x2="596.9" y2="1406.2" stroke="#000" stroke-width="2.5" stroke-linecap="butt"/>
<line x1="655.6" y1="1395.0" x2="655.6" y2="1406.2" stroke="#000" stroke-width="2.5" stroke-linecap="butt"/>
<text x="486.5" y="1424.0" font-size="19.5" text-anchor="end" transform="rotate(-45 486.5 1424.0)">Vehicle</text>
<text x="544.9" y="1424.0" font-size="19.5" text-anchor="end" transform="rotate(-45 544.9 1424.0)">+ 1<tspan class="mu">μ</tspan>g/mL LPS<tspan font-size="13.5" dy="2.5">EC</tspan></text>
<text x="603.4" y="1424.0" font-size="19.5" text-anchor="end" transform="rotate(-45 603.4 1424.0)">+ 1<tspan class="mu">μ</tspan>g/mL LPS<tspan font-size="13.5" dy="2.5">SM</tspan></text>
<text x="662.1" y="1424.0" font-size="19.5" text-anchor="end" transform="rotate(-45 662.1 1424.0)">+ 10<tspan class="mu">μ</tspan>g/mL LPS<tspan font-size="13.5" dy="2.5">RS</tspan></text>
</svg>
</body>
</html>
